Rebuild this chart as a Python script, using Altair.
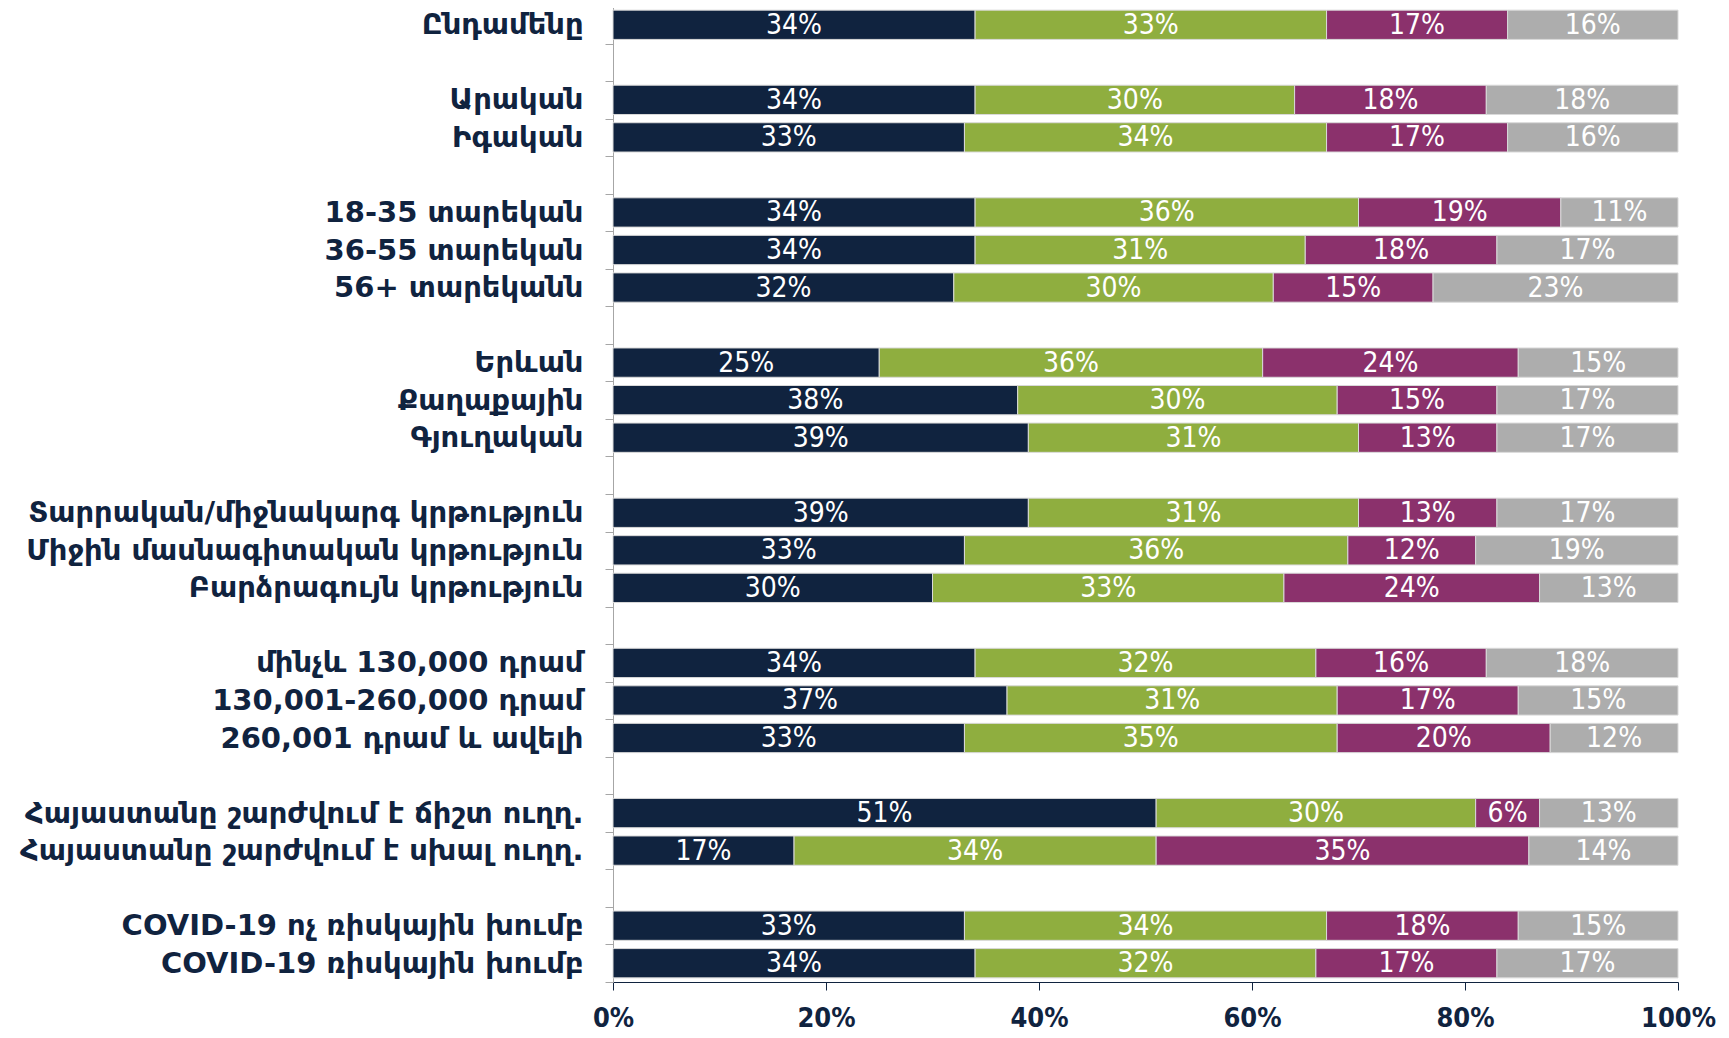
import altair as alt
import pandas as pd

# ---- data ----
groups = [
    ["Ընդամենը"],
    ["Արական", "Իգական"],
    ["18-35 տարեկան", "36-55 տարեկան", "56+ տարեկանն"],
    ["Երևան", "Քաղաքային", "Գյուղական"],
    ["Տարրական/միջնակարգ կրթություն", "Միջին մասնագիտական կրթություն", "Բարձրագույն կրթություն"],
    ["մինչև 130,000 դրամ", "130,001-260,000 դրամ\u00a0", "260,001 դրամ և ավելի\u00a0"],
    ["Հայաստանը շարժվում է ճիշտ ուղղ.", "Հայաստանը շարժվում է սխալ ուղղ."],
    ["COVID-19 ոչ ռիսկային խումբ", "COVID-19 ռիսկային խումբ"],
]
series = ["Series 1", "Series 2", "Series 3", "Series 4"]
s1 = [34, 34, 33, 34, 34, 32, 25, 38, 39, 39, 33, 30, 34, 37, 33, 51, 17, 33, 34]
s2 = [33, 30, 34, 36, 31, 30, 36, 30, 31, 31, 36, 33, 32, 31, 35, 30, 34, 34, 32]
s3 = [17, 18, 17, 19, 18, 15, 24, 15, 13, 13, 12, 24, 16, 17, 20, 6, 35, 18, 17]
s4 = [16, 18, 16, 11, 17, 23, 15, 17, 17, 17, 19, 13, 18, 15, 12, 13, 14, 15, 17]
colors = ["#10233F", "#8FAE3F", "#8B316C", "#ADADAD"]
x_ticks = [0, 20, 40, 60, 80, 100]

# ---- build table ----
categories = [c for g in groups for c in g]
domain = []
for i, g in enumerate(groups):
    if i > 0:
        domain.append(f"gap{i}")
    domain.extend(g)

rows = []
for ci, cat in enumerate(categories):
    for si, (name, vals) in enumerate(zip(series, [s1, s2, s3, s4])):
        rows.append({"category": cat, "series": name, "order": si, "value": vals[ci]})
df = pd.DataFrame(rows)

NAVY = "#10233F"
axis_font = "DejaVu Sans"
cond_font = "DejaVu Sans Condensed"

base = alt.Chart(df).transform_stack(
    stack="value",
    groupby=["category"],
    as_=["v0", "v1"],
    sort=[alt.SortField("order", order="ascending")],
).transform_calculate(mid="(datum.v0 + datum.v1) / 2")

y_scale = alt.Scale(domain=domain, paddingInner=0, paddingOuter=0)

y_enc = alt.Y(
    "category:N",
    sort=domain,
    scale=y_scale,
    axis=alt.Axis(
        title=None,
        labelExpr="indexof(datum.label, 'gap') == 0 ? '' : datum.label",
        labelFont=axis_font,
        labelFontWeight="bold",
        labelFontSize=29,
        labelColor=NAVY,
        labelPadding=22,
        labelLimit=1000,
        tickSize=8,
        tickColor="#A6A6A6",
        domainColor="#A6A6A6",
        tickBand="extent",
    ),
)

x_scale = alt.Scale(domain=[0, 100], nice=False, zero=True)

bars = base.mark_bar(
    height={"band": 0.78}, stroke="#D9D9D9", strokeWidth=1
).encode(
    x=alt.X(
        "v0:Q",
        scale=x_scale,
        axis=alt.Axis(
            title=None,
            values=x_ticks,
            labelExpr="datum.value + '%'",
            labelFont=cond_font,
            labelFontWeight="bold",
            labelFontSize=27,
            labelColor=NAVY,
            labelPadding=15,
            labelFlush=False,
            tickSize=8,
            tickColor=NAVY,
            domainColor=NAVY,
            grid=False,
        ),
    ),
    x2="v1:Q",
    y=y_enc,
    color=alt.Color("series:N", scale=alt.Scale(domain=series, range=colors), legend=None),
)

texts = base.mark_text(
    color="white",
    font=cond_font,
    fontSize=28,
    align="center",
    baseline="middle",
    dy=1,
).encode(
    x=alt.X("mid:Q", scale=x_scale),
    y=alt.Y("category:N", sort=domain, scale=y_scale),
    text=alt.Text("label:N"),
).transform_calculate(label="datum.value + '%'")

chart = alt.layer(bars, texts).properties(
    width=1065,
    height=976,
    padding={"left": 605, "top": -2, "right": 40, "bottom": 51},
    autosize=alt.AutoSizeParams(type="none"),
).configure_view(stroke=None)

chart.save("out.html", embed_options={"renderer": "svg", "actions": False})
